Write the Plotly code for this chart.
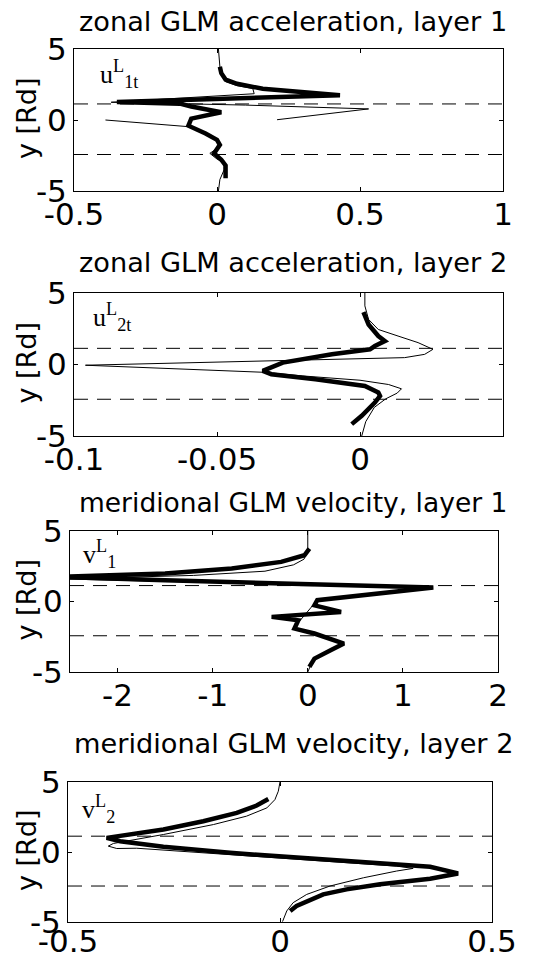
import plotly.graph_objects as go

# ---------------- data ----------------
titles = ["zonal GLM acceleration, layer 1", "zonal GLM acceleration, layer 2",
          "meridional GLM velocity, layer 1", "meridional GLM velocity, layer 2"]
labels = ["u<sup>L</sup><sub>1t</sub>", "u<sup>L</sup><sub>2t</sub>",
          "v<sup>L</sup><sub>1</sub>", "v<sup>L</sup><sub>2</sub>"]
y_label = "y [Rd]"
x_ranges = [[-0.5, 1], [-0.1, 0.05], [-2.5, 2], [-0.5, 0.5]]
x_tickvals = [[-0.5, 0, 0.5, 1], [-0.1, -0.05, 0], [-2, -1, 0, 1, 2], [-0.5, 0, 0.5]]
x_ticktext = [["-0.5", "0", "0.5", "1"], ["-0.1", "-0.05", "0"],
              ["-2", "-1", "0", "1", "2"], ["-0.5", "0", "0.5"]]
y_range = [-5, 5]
y_tickvals = [-5, 0, 5]
y_ticktext = ["-5", "0", "5"]
dash_levels = [1.13, -2.43]

# panel 1: zonal GLM acceleration, layer 1
p1_thin_x = [0.005, 0.008, 0.012, 0.03, 0.07, 0.125, 0.13, -0.37, -0.15, 0.1, 0.53, 0.21, None,
             -0.39, -0.1, -0.04, 0.0, 0.015, -0.025, 0.0, 0.025, 0.025, 0.01, 0.005]
p1_thin_y = [5.0, 4.0, 3.3, 2.7, 2.42, 2.22, 1.85, 1.25, 1.17, 1.05, 0.78, 0.02, None,
             0.0, -0.47, -0.95, -1.4, -1.8, -2.35, -2.75, -3.0, -3.5, -4.2, -5.0]
p1_thick_x = [0.01, 0.015, 0.03, 0.07, 0.16, 0.3, 0.43, -0.35, -0.13, -0.09, 0.015, -0.09, -0.10,
              -0.04, 0.0, 0.01, -0.01, 0.015, 0.03, 0.03]
p1_thick_y = [3.75, 3.3, 2.85, 2.55, 2.2, 1.95, 1.75, 1.27, 1.15, 0.95, 0.55, 0.1, -0.4,
              -0.95, -1.4, -1.75, -2.35, -2.8, -3.2, -4.1]

# panel 2: zonal GLM acceleration, layer 2
p2_thin_x = [0.0017, 0.0017, 0.003, 0.0064, 0.0133, 0.0203, 0.0255, 0.0226, 0.0156, -0.096,
             -0.033, -0.02, 0.0, 0.01, 0.0145, 0.013, 0.009, 0.005, 0.002, 0.0006]
p2_thin_y = [5.0, 4.1, 3.15, 2.45, 1.99, 1.53, 1.06, 0.71, 0.48, -0.05,
             -0.55, -0.8, -1.1, -1.4, -1.7, -2.0, -2.4, -3.0, -4.0, -5.0]
p2_thick_x = [0.0012, 0.003, 0.0064, 0.0087, 0.0052, 0.0035, -0.0098, -0.027, -0.034, -0.031,
              -0.0156, 0.0017, 0.0064, 0.007, 0.0052, 0.0006, -0.0029]
p2_thick_y = [3.66, 2.8, 1.99, 1.64, 1.29, 1.06, 0.71, 0.13, -0.45, -0.68,
              -1.03, -1.5, -1.96, -2.2, -2.66, -3.59, -4.17]

# panel 3: meridional GLM velocity, layer 1
p3_thin_x = [0.0, 0.0, -0.04, -0.15, -0.45, -1.2, -2.6, -1.0, 0.0, 1.25, 0.12, 0.05, -0.1,
             -0.14, 0.07, 0.36, 0.23, 0.06, 0.0]
p3_thin_y = [5.0, 3.6, 3.0, 2.6, 2.15, 1.85, 1.6, 1.35, 1.2, 1.0, 0.12, -0.3, -1.5,
             -1.92, -2.27, -2.98, -3.46, -4.05, -5.0]
p3_thick_x = [0.017, -0.035, -0.28, -0.8, -1.5, -2.6, -1.5, 0.0, 1.32, 0.1, 0.07, 0.35, -0.38,
              -0.1, -0.14, 0.07, 0.38, 0.24, 0.07, 0.017]
p3_thick_y = [3.75, 3.28, 2.81, 2.34, 1.98, 1.75, 1.5, 1.22, 0.99, 0.09, -0.27, -0.74, -1.09,
              -1.33, -1.92, -2.27, -2.98, -3.46, -4.05, -4.64]

# panel 4: meridional GLM velocity, layer 2
p4_thin_x = [0.0, -0.004, -0.012, -0.031, -0.079, -0.157, -0.275, -0.354, -0.393, -0.405,
             -0.385, -0.338, -0.118, 0.118, 0.275, 0.314, 0.275, 0.197, 0.118, 0.063,
             0.031, 0.016, 0.006]
p4_thin_y = [5.0, 4.34, 3.74, 3.15, 2.56, 1.96, 1.25, 0.84, 0.61, 0.42,
             0.25, 0.27, -0.18, -0.65, -1.01, -1.17, -1.36, -1.84, -2.43, -3.03,
             -3.62, -4.21, -4.97]
p4_thick_x = [-0.0275, -0.055, -0.102, -0.181, -0.275, -0.354, -0.409, -0.377, -0.275, -0.118,
              0.039, 0.197, 0.354, 0.42, 0.354, 0.236, 0.157, 0.102, 0.063, 0.039, 0.024]
p4_thick_y = [3.79, 3.32, 2.79, 2.2, 1.61, 1.25, 1.01, 0.77, 0.37, -0.06,
              -0.41, -0.72, -1.05, -1.53, -1.91, -2.31, -2.67, -3.03, -3.5, -3.86, -4.21]

thin_x = [p1_thin_x, p2_thin_x, p3_thin_x, p4_thin_x]
thin_y = [p1_thin_y, p2_thin_y, p3_thin_y, p4_thin_y]
thick_x = [p1_thick_x, p2_thick_x, p3_thick_x, p4_thick_x]
thick_y = [p1_thick_y, p2_thick_y, p3_thick_y, p4_thick_y]

# ---------------- layout ----------------
W, H = 542, 958
boxes = [(74, 503, 49, 191), (74, 503, 293, 436), (70, 498, 531, 672), (68, 492, 782, 922)]
title_y = [21, 262, 502, 743]
title_size = [27.2, 27.2, 26.5, 27.2]
label_pos = [(98, 74), (91, 317), (81, 554), (80, 809)]
xlabel_standoff = [-4, -4, -4, -8]

SANS = "DejaVu Sans"
SERIF = "Liberation Serif"

fig = go.Figure()
layout = dict(width=W, height=H, margin=dict(l=0, r=0, t=0, b=0, pad=0, autoexpand=False),
              autosize=False,
              paper_bgcolor="white", plot_bgcolor="white", showlegend=False,
              annotations=[], shapes=[])

for i in range(4):
    n = "" if i == 0 else str(i + 1)
    xa, ya = "x" + n, "y" + n
    L, R, T, B = boxes[i]
    fig.add_trace(go.Scatter(x=thin_x[i], y=thin_y[i], xaxis=xa, yaxis=ya, mode="lines",
                             line=dict(color="black", width=1), connectgaps=False,
                             hoverinfo="skip"))
    fig.add_trace(go.Scatter(x=thick_x[i], y=thick_y[i], xaxis=xa, yaxis=ya, mode="lines",
                             line=dict(color="black", width=4.5), hoverinfo="skip"))
    axcommon = dict(showline=True, linecolor="black", linewidth=1, mirror="ticks",
                    ticks="inside", ticklen=4, tickcolor="black", tickwidth=1,
                    showgrid=False, zeroline=False, fixedrange=True, automargin=False,
                    tickfont=dict(family=SANS, size=31, color="black"))
    layout["xaxis" + n] = dict(domain=[L / W, R / W], range=x_ranges[i], anchor=ya,
                               tickmode="array", tickvals=x_tickvals[i], ticktext=x_ticktext[i],
                               ticklabelstandoff=xlabel_standoff[i], **axcommon)
    layout["yaxis" + n] = dict(domain=[1 - B / H, 1 - T / H], range=y_range, anchor=xa,
                               tickmode="array", tickvals=y_tickvals, ticktext=y_ticktext,
                               ticklabelstandoff=0, **axcommon)
    for lvl in dash_levels:
        layout["shapes"].append(dict(type="line", xref=xa + " domain", yref=ya,
                                     x0=0, x1=1, y0=lvl, y1=lvl,
                                     line=dict(color="black", width=1, dash="14px,9px")))
    layout["annotations"].append(dict(text=titles[i], xref="paper", yref="paper",
                                      x=293 / W, y=1 - title_y[i] / H, xanchor="center",
                                      yanchor="middle", showarrow=False,
                                      font=dict(family=SANS, size=title_size[i], color="black")))
    layout["annotations"].append(dict(text=y_label, xref="paper", yref="paper",
                                      x=26 / W, y=1 - ((T + B) / 2 - 2) / H, xanchor="center",
                                      yanchor="middle", textangle=-90, showarrow=False,
                                      font=dict(family=SANS, size=27, color="black")))
    lx, ly = label_pos[i]
    layout["annotations"].append(dict(text=labels[i], xref="paper", yref="paper",
                                      x=lx / W, y=1 - ly / H, xanchor="left",
                                      yanchor="middle", showarrow=False,
                                      font=dict(family=SERIF, size=26, color="black")))

fig.update_layout(**layout)
fig.write_html("out.html")
